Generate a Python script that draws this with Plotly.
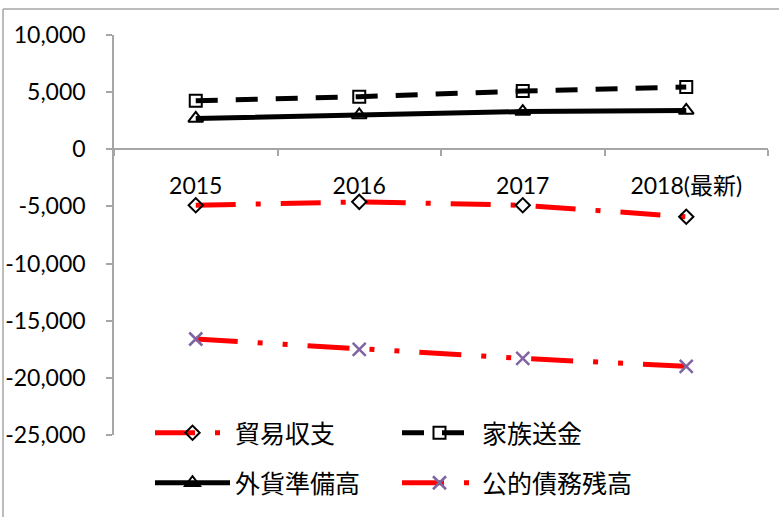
import plotly.graph_objects as go

categories = ["2015", "2016", "2017", "2018(最新)"]
trade_balance = [-4900, -4600, -4900, -5900]      # 貿易収支
remittances = [4250, 4600, 5100, 5450]           # 家族送金
reserves = [2700, 3000, 3300, 3400]              # 外貨準備高
public_debt = [-16600, -17500, -18300, -19000]   # 公的債務残高

y_ticks = [10000, 5000, 0, -5000, -10000, -15000, -20000, -25000]
y_tick_labels = ["10,000", "5,000", "0", "-5,000", "-10,000", "-15,000", "-20,000", "-25,000"]

FONT = "Lato, 'Noto Sans CJK JP', sans-serif"
CJK = "'Noto Sans CJK JP', sans-serif"

fig = go.Figure()
fig.add_trace(go.Scatter(
    x=categories, y=trade_balance, name="貿易収支", mode="lines+markers",
    line=dict(color="#FF0000", width=5, dash="40px,20px,5px,20px"),
    marker=dict(symbol="diamond-open", size=11, color="black", line=dict(width=2, color="black")),
    legend="legend"))
fig.add_trace(go.Scatter(
    x=categories, y=remittances, name="家族送金", mode="lines+markers",
    line=dict(color="black", width=5, dash="22px,18px"),
    marker=dict(symbol="square-open", size=12, color="black", line=dict(width=2, color="black")),
    legend="legend"))
fig.add_trace(go.Scatter(
    x=categories, y=reserves, name="外貨準備高", mode="lines+markers",
    line=dict(color="black", width=5),
    marker=dict(symbol="triangle-up-open", size=13, color="black", line=dict(width=2, color="black")),
    legend="legend2"))
fig.add_trace(go.Scatter(
    x=categories, y=public_debt, name="公的債務残高", mode="lines+markers",
    line=dict(color="#FF0000", width=5, dash="42px,20px,5px,20px,5px,20px"),
    marker=dict(symbol="x-thin-open", size=13, color="#8064A2", line=dict(width=2.5, color="#8064A2")),
    legend="legend2"))

y_lo, y_hi = -25000, 10000
zero_pos = (0 - y_lo) / (y_hi - y_lo)

L, R, T, B = 114, 11, 35, 82
PW, PH = 779 - L - R, 517 - T - B

legend_common = dict(
    orientation="h", xanchor="left", yanchor="middle",
    entrywidth=157, itemwidth=75, bgcolor="rgba(0,0,0,0)",
    font=dict(family=CJK, size=25),
)

fig.update_layout(
    width=779, height=517,
    margin=dict(l=L, r=R, t=T, b=B),
    paper_bgcolor="white", plot_bgcolor="white",
    font=dict(family=FONT, size=23, color="black"),
    xaxis=dict(
        type="category", range=[-0.5, 3.5],
        anchor="free", position=zero_pos, automargin=False,
        showline=True, linecolor="#A6A6A6", linewidth=1.5,
        ticks="outside", tickson="boundaries", ticklen=6, tickcolor="#A6A6A6", tickwidth=1.5,
        ticklabelstandoff=16, showgrid=False, zeroline=False,
        tickfont=dict(family=FONT, size=23),
    ),
    yaxis=dict(
        range=[y_lo, y_hi], tickvals=y_ticks, ticktext=y_tick_labels, automargin=False,
        showline=True, linecolor="#A6A6A6", linewidth=1.5,
        ticks="outside", ticklen=6, tickcolor="#A6A6A6", tickwidth=1.5,
        ticklabelstandoff=16, showgrid=False, zeroline=False,
        tickfont=dict(family=FONT, size=23),
    ),
    legend=dict(legend_common, x=(150 - L) / PW, y=(T + PH - 433) / PH),
    legend2=dict(legend_common, x=(150 - L) / PW, y=(T + PH - 483) / PH),
    shapes=[
        dict(type="line", xref="paper", yref="paper",
             x0=(3 - L) / PW, x1=(790 - L) / PW,
             y0=(T + PH - 9) / PH, y1=(T + PH - 9) / PH,
             line=dict(color="#A6A6A6", width=1.5)),
        dict(type="line", xref="paper", yref="paper",
             x0=(3 - L) / PW, x1=(3 - L) / PW,
             y0=(T + PH - 9) / PH, y1=(T + PH - 530) / PH,
             line=dict(color="#A6A6A6", width=1.5)),
    ],
)

fig.write_html(
    "out.html",
    config={"displayModeBar": False},
    post_script="document.body.style.margin='0';document.body.style.overflow='hidden';",
)
